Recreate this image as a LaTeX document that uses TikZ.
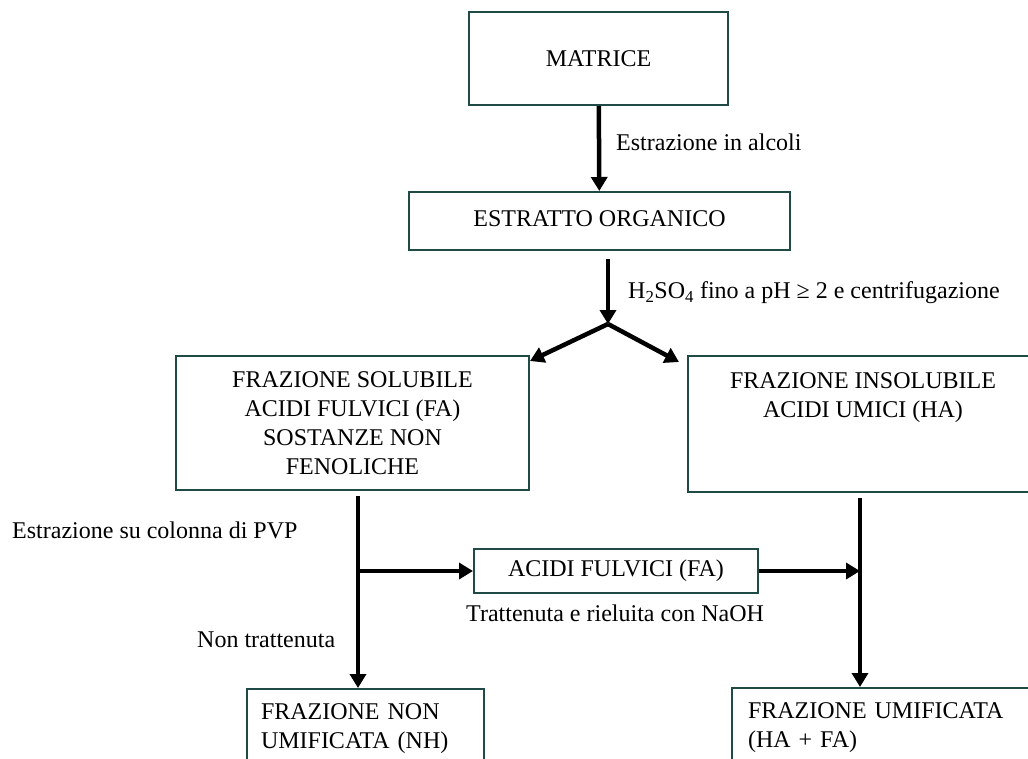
\documentclass[tikz,border=0pt]{standalone}
\usepackage{fontspec}
\setmainfont{Liberation Serif}
\usepackage{tikz}
\usepackage{xcolor}
\usetikzlibrary{arrows.meta,positioning,calc}
\definecolor{fxteal}{HTML}{1F4A46}
\tikzset{
  flowBox/.style={draw=fxteal, line width=2pt, fill=white, align=center, inner sep=4pt, font=\fontsize{24}{29}\selectfont},
  flowArrow/.style={-{Triangle[length=14pt,width=16pt]}, line width=4.5pt, draw=black},
  flowLabel/.style={font=\fontsize{24}{29}\selectfont, inner sep=0pt, anchor=west}
}

\begin{document}
\begin{tikzpicture}[x=1pt, y=-1pt]
  \useasboundingbox (0,0) rectangle (1028,758);
  \fill[white] (0,0) rectangle (1028,758);
  \clip (0,0) rectangle (1028,758);
  \node[flowBox, minimum width=259pt, minimum height=93pt] (mat) at (598.5,58.5) {MATRICE};
  \node[flowBox, minimum width=381pt, minimum height=58pt, text depth=5pt] (estr) at (599.5,221) {ESTRATTO ORGANICO};
  \node[flowBox, minimum width=353pt, minimum height=134pt] (sol) at (352.5,423) {FRAZIONE SOLUBILE\\ ACIDI FULVICI (FA)\\ SOSTANZE NON\\ FENOLICHE};
  \node[flowBox, minimum width=350pt, minimum height=136pt] (insol) at (863,424) {FRAZIONE INSOLUBILE\\ ACIDI UMICI (HA)\\ \strut\\ \mbox{}};
  \node[flowBox, minimum width=284pt, minimum height=44pt] (acid) at (616,571) {ACIDI FULVICI (FA)};
  \node[flowBox, align=left, anchor=north west, inner xsep=14pt, text width=209pt, minimum height=80pt] (nh) at (246,688) {FRAZIONE NON\\ UMIFICATA (NH)};
  \node[flowBox, align=left, anchor=north west, inner xsep=16pt, text width=280pt, minimum height=80pt] (hum) at (731,687) {FRAZIONE UMIFICATA\\ (HA + FA)};
  \coordinate (split) at (608,324);
  \coordinate (fork) at (358,571);
  \coordinate (join) at (860,571);
  \draw[flowArrow] (mat) -- (estr);
  \draw[flowArrow, shorten <=8pt] (estr.south -| split) -- (split);
  \draw[flowArrow] (split) -- ([yshift=-6pt]sol.north east);
  \draw[flowArrow] (split) -- ([shift={(-8pt,-7pt)}]insol.north west);
  \draw[flowArrow, shorten <=5pt] (sol.south -| fork) -- (nh.north -| fork);
  \draw[flowArrow, shorten <=5pt] (insol.south -| join) -- (hum.north -| join);
  \foreach \a/\b in {fork/acid.west,acid.east/join} \draw[flowArrow] (\a) -- (\b);
  \node[flowLabel] (lblAlc) at (616,142) {Estrazione in alcoli};
  \node[flowLabel] (lblAcid) at (628,293) {H\textsubscript{2}SO\textsubscript{4} fino a pH ≥ 2 e centrifugazione};
  \node[flowLabel] (lblPvp) at (12,530) {Estrazione su colonna di PVP};
  \node[flowLabel] (lblNon) at (197,640) {Non trattenuta};
  \node[flowLabel] (lblRet) at (466,613) {Trattenuta e rieluita con NaOH};
\end{tikzpicture}
\end{document}
